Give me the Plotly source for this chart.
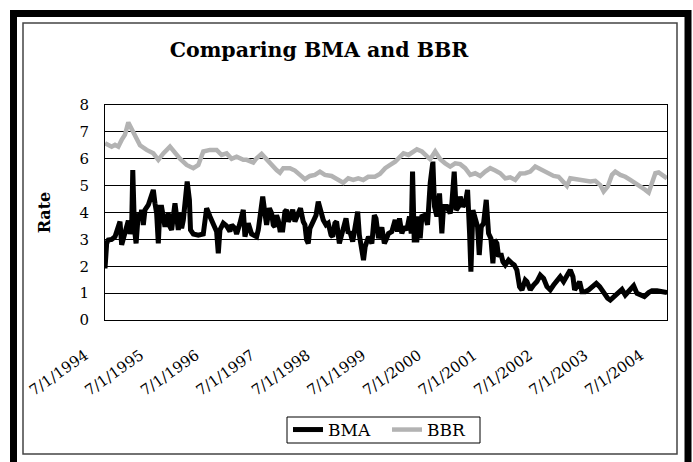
import pandas as pd
import plotly.graph_objects as go

# ---------------- data ----------------
# decimal years (1994.5 = 7/1/1994) and rates
bma_years = [
    1994.50, 1994.53, 1994.56, 1994.62, 1994.68, 1994.71, 1994.77, 1994.80, 1994.86, 1994.92,
    1994.95, 1994.98, 1995.00, 1995.03, 1995.06, 1995.10, 1995.13, 1995.16, 1995.19, 1995.22,
    1995.28, 1995.34, 1995.37, 1995.40, 1995.43, 1995.46, 1995.49, 1995.52, 1995.55, 1995.58,
    1995.64, 1995.67, 1995.70, 1995.73, 1995.76, 1995.79, 1995.82, 1995.85, 1995.88, 1995.91,
    1995.98, 1996.02, 1996.04, 1996.09, 1996.18, 1996.27, 1996.33, 1996.39, 1996.45, 1996.51,
    1996.54, 1996.57, 1996.63, 1996.69, 1996.75, 1996.78, 1996.84, 1996.87, 1996.93, 1996.99,
    1997.02, 1997.05, 1997.08, 1997.14, 1997.20, 1997.23, 1997.26, 1997.29, 1997.34, 1997.38,
    1997.41, 1997.46, 1997.50, 1997.53, 1997.56, 1997.59, 1997.62, 1997.65, 1997.70, 1997.74,
    1997.77, 1997.80, 1997.83, 1997.88, 1997.92, 1997.98, 1998.02, 1998.07, 1998.10, 1998.13,
    1998.16, 1998.19, 1998.25, 1998.30, 1998.34, 1998.39, 1998.43, 1998.48, 1998.52, 1998.57,
    1998.60, 1998.64, 1998.67, 1998.72, 1998.76, 1998.79, 1998.84, 1998.88, 1998.91, 1998.96,
    1999.00, 1999.05, 1999.08, 1999.11, 1999.155, 1999.185, 1999.245, 1999.305, 1999.35, 1999.38,
    1999.425, 1999.485, 1999.53, 1999.56, 1999.605, 1999.665, 1999.725, 1999.767, 1999.803, 1999.845,
    1999.887, 1999.935, 1999.983, 2000.014, 2000.038, 2000.068, 2000.116, 2000.146, 2000.176, 2000.206,
    2000.266, 2000.308, 2000.356, 2000.404, 2000.434, 2000.476, 2000.524, 2000.566, 2000.596, 2000.656,
    2000.716, 2000.746, 2000.788, 2000.824, 2000.866, 2000.896, 2000.944, 2000.986, 2001.029, 2001.065,
    2001.089, 2001.125, 2001.167, 2001.209, 2001.239, 2001.275, 2001.317, 2001.365, 2001.407, 2001.449,
    2001.485, 2001.515, 2001.557, 2001.587, 2001.629, 2001.665, 2001.707, 2001.767, 2001.827, 2001.869,
    2001.917, 2001.965, 2002.008, 2002.038, 2002.068, 2002.098, 2002.158, 2002.218, 2002.278, 2002.338,
    2002.398, 2002.458, 2002.518, 2002.578, 2002.638, 2002.698, 2002.758, 2002.818, 2002.878, 2002.926,
    2002.956, 2002.998, 2003.046, 2003.089, 2003.149, 2003.209, 2003.269, 2003.347, 2003.407, 2003.479,
    2003.551, 2003.599, 2003.659, 2003.749, 2003.809, 2003.869, 2003.929, 2004.020, 2004.080, 2004.140,
    2004.212, 2004.290, 2004.350, 2004.440, 2004.530, 2004.620,
]
bma_rates = [
    1.92, 2.85, 2.98, 3.00, 3.10, 3.30, 3.66, 2.80, 3.20, 3.70,
    3.20, 3.50, 5.58, 3.40, 2.85, 3.97, 3.72, 4.10, 3.54, 4.10,
    4.28, 4.78, 4.84, 4.34, 3.97, 2.85, 4.20, 4.20, 3.85, 3.47,
    3.97, 3.47, 3.35, 3.85, 4.34, 3.85, 3.35, 3.97, 3.41, 3.72,
    5.15, 4.47, 3.35, 3.20, 3.16, 3.20, 4.16, 3.85, 3.60, 3.29,
    2.48, 3.35, 3.60, 3.50, 3.30, 3.54, 3.41, 3.20, 3.60, 4.10,
    3.10, 3.47, 3.60, 3.20, 3.16, 3.10, 3.35, 3.85, 4.59, 3.97,
    3.54, 4.16, 3.97, 3.54, 3.47, 3.90, 3.72, 3.35, 3.35, 4.03,
    4.10, 3.66, 3.78, 4.10, 3.66, 3.97, 4.16, 3.66, 3.54, 2.98,
    2.85, 3.41, 3.72, 3.90, 4.40, 3.90, 3.72, 3.54, 3.60, 3.16,
    3.10, 3.60, 3.66, 2.85, 3.22, 3.41, 3.78, 3.22, 3.29, 2.92,
    3.47, 4.03, 3.16, 2.85, 2.23, 2.73, 3.10, 2.85, 3.90, 3.78,
    3.04, 3.45, 2.85, 2.98, 3.22, 3.29, 3.72, 3.29, 3.78, 3.22,
    3.47, 3.35, 3.85, 3.22, 5.52, 2.98, 2.98, 3.85, 3.04, 3.85,
    3.90, 3.54, 5.09, 5.89, 4.22, 3.85, 4.71, 3.22, 4.22, 4.22,
    3.97, 4.34, 5.52, 4.09, 4.22, 4.59, 4.22, 4.34, 4.84, 3.22,
    1.80, 4.09, 3.72, 3.47, 2.42, 3.47, 3.60, 4.47, 3.22, 3.04,
    2.11, 2.98, 2.85, 2.36, 2.48, 2.17, 2.05, 2.23, 2.11, 2.05,
    1.86, 1.24, 1.12, 1.30, 1.49, 1.43, 1.12, 1.30, 1.43, 1.67,
    1.55, 1.24, 1.12, 1.30, 1.43, 1.61, 1.43, 1.67, 1.86, 1.61,
    1.12, 1.24, 1.43, 1.05, 1.05, 1.12, 1.24, 1.36, 1.24, 0.99,
    0.81, 0.74, 0.87, 1.05, 1.14, 0.93, 1.05, 1.27, 0.99, 0.93,
    0.87, 1.02, 1.09, 1.09, 1.05, 1.02,
]

bbr_years = [
    1994.50, 1994.56, 1994.62, 1994.68, 1994.74, 1994.80, 1994.86, 1994.92, 1995.01, 1995.07,
    1995.13, 1995.25, 1995.37, 1995.46, 1995.55, 1995.67, 1995.76, 1995.85, 1995.97, 1996.09,
    1996.18, 1996.27, 1996.39, 1996.51, 1996.60, 1996.69, 1996.78, 1996.87, 1996.99, 1997.05,
    1997.17, 1997.23, 1997.32, 1997.41, 1997.50, 1997.59, 1997.65, 1997.71, 1997.83, 1997.92,
    1998.01, 1998.10, 1998.19, 1998.28, 1998.37, 1998.46, 1998.58, 1998.67, 1998.79, 1998.88,
    1998.97, 1999.06, 1999.15, 1999.24, 1999.36, 1999.45, 1999.545, 1999.635, 1999.725, 1999.815,
    1999.875, 1999.965, 2000.056, 2000.116, 2000.206, 2000.296, 2000.356, 2000.446, 2000.536, 2000.626,
    2000.716, 2000.806, 2000.896, 2000.986, 2001.077, 2001.167, 2001.257, 2001.347, 2001.437, 2001.527,
    2001.617, 2001.707, 2001.797, 2001.887, 2001.977, 2002.068, 2002.158, 2002.248, 2002.308, 2002.398,
    2002.488, 2002.578, 2002.668, 2002.758, 2002.818, 2002.878, 2002.968, 2003.059, 2003.149, 2003.239,
    2003.329, 2003.419, 2003.479, 2003.551, 2003.629, 2003.689, 2003.779, 2003.869, 2003.959, 2004.050,
    2004.140, 2004.230, 2004.290, 2004.350, 2004.410, 2004.470, 2004.530, 2004.620,
]
bbr_rates = [
    6.58, 6.50, 6.45, 6.52, 6.45, 6.70, 6.90, 7.35, 7.00, 6.80,
    6.50, 6.33, 6.20, 5.96, 6.20, 6.45, 6.20, 6.00, 5.77, 5.65,
    5.77, 6.27, 6.33, 6.33, 6.14, 6.20, 6.00, 6.08, 5.96, 5.96,
    5.86, 6.02, 6.18, 5.96, 5.77, 5.58, 5.48, 5.65, 5.65, 5.56,
    5.40, 5.24, 5.36, 5.40, 5.52, 5.40, 5.36, 5.27, 5.11, 5.27,
    5.21, 5.27, 5.21, 5.33, 5.33, 5.43, 5.65, 5.77, 5.89, 6.08,
    6.20, 6.14, 6.27, 6.35, 6.27, 6.10, 5.98, 6.27, 5.98, 5.83,
    5.71, 5.83, 5.80, 5.65, 5.40, 5.46, 5.36, 5.52, 5.65, 5.56,
    5.46, 5.27, 5.31, 5.21, 5.45, 5.46, 5.52, 5.71, 5.65, 5.58,
    5.46, 5.36, 5.33, 5.15, 4.99, 5.27, 5.24, 5.21, 5.15, 5.15,
    5.18, 5.02, 4.78, 4.96, 5.40, 5.52, 5.40, 5.33, 5.21, 5.09,
    4.99, 4.84, 4.74, 5.15, 5.46, 5.49, 5.40, 5.27,
]

tick_dates = ["1994-07-01", "1995-07-01", "1996-07-01", "1997-07-01", "1998-07-01", "1999-07-01",
              "2000-07-01", "2001-07-01", "2002-07-01", "2003-07-01", "2004-07-01"]
tick_labels = ["7/1/1994", "7/1/1995", "7/1/1996", "7/1/1997", "7/1/1998", "7/1/1999",
               "7/1/2000", "7/1/2001", "7/1/2002", "7/1/2003", "7/1/2004"]
y_ticks = [0, 1, 2, 3, 4, 5, 6, 7, 8]


def to_date(y):
    return pd.Timestamp("1994-07-01") + pd.to_timedelta((y - 1994.5) * 365.25, unit="D")


bma_x = [to_date(v) for v in bma_years]
bbr_x = [to_date(v) for v in bbr_years]

# ---------------- layout geometry ----------------
W, H = 693, 462
L, R, T, B = 105, 26, 105, 142
PW, PH = W - L - R, H - T - B


def px(xp):
    return (xp - L) / PW


def py(yp):
    return (H - B - yp) / PH


SERIF = "DejaVu Serif"

fig = go.Figure()
fig.add_trace(go.Scatter(x=bma_x, y=bma_rates, mode="lines", name="BMA",
                         line=dict(color="#000000", width=5)))
fig.add_trace(go.Scatter(x=bbr_x, y=bbr_rates, mode="lines", name="BBR",
                         line=dict(color="#b3b3b3", width=4.5)))

fig.update_layout(
    template="none",
    width=W, height=H,
    margin=dict(l=L, r=R, t=T, b=B, autoexpand=False),
    paper_bgcolor="white", plot_bgcolor="white",
    font=dict(family=SERIF, color="black", size=15),
    title=dict(text="<b>Comparing BMA and BBR</b>", font=dict(family=SERIF, size=20.5, color="black"),
               x=319 / W, y=1 - 50 / H, xref="container", yref="container",
               xanchor="center", yanchor="middle"),
    showlegend=True,
    legend=dict(orientation="h", x=px(387), y=py(430), xanchor="center", yanchor="middle",
                borderwidth=0, bgcolor="rgba(0,0,0,0)",
                font=dict(family=SERIF, size=17, color="black"),
                itemwidth=30, tracegroupgap=0, entrywidth=54),
    xaxis=dict(
        automargin=False,
        range=[bma_x[0], bma_x[-1]],
        tickmode="array", tickvals=tick_dates, ticktext=tick_labels,
        tickangle=-35, showgrid=False, zeroline=False,
        showline=True, linecolor="black", linewidth=1, mirror=True,
        ticks="", tickfont=dict(family=SERIF, size=15, color="black"),
        ticklabelstandoff=20, ticklabelshift=-20,
    ),
    yaxis=dict(
        automargin=False,
        range=[0, 8], tickmode="array", tickvals=y_ticks,
        showgrid=True, gridcolor="black", gridwidth=1, zeroline=False,
        showline=True, linecolor="black", linewidth=1, mirror=True,
        ticks="", tickfont=dict(family=SERIF, size=15, color="black"),
        ticklabelstandoff=12,
        title=dict(text="<b>Rate</b>", font=dict(family=SERIF, size=16, color="black"), standoff=24),
    ),
    shapes=[
        # outer thick frame
        dict(type="rect", xref="paper", yref="paper",
             x0=px(13.5), x1=px(688), y0=py(13.5), y1=py(468),
             line=dict(color="black", width=7), fillcolor="rgba(0,0,0,0)", layer="above"),
        # inner thin frame
        dict(type="rect", xref="paper", yref="paper",
             x0=px(23), x1=px(677), y0=py(23), y1=py(454),
             line=dict(color="#444444", width=1.5), fillcolor="rgba(0,0,0,0)", layer="above"),
        # legend box
        dict(type="rect", xref="paper", yref="paper",
             x0=px(287), x1=px(480), y0=py(417), y1=py(443),
             line=dict(color="black", width=1), fillcolor="white", layer="below"),
    ],
)

fig.write_html("out.html", post_script="document.body.style.margin='0px';",
               config={"displayModeBar": False})
